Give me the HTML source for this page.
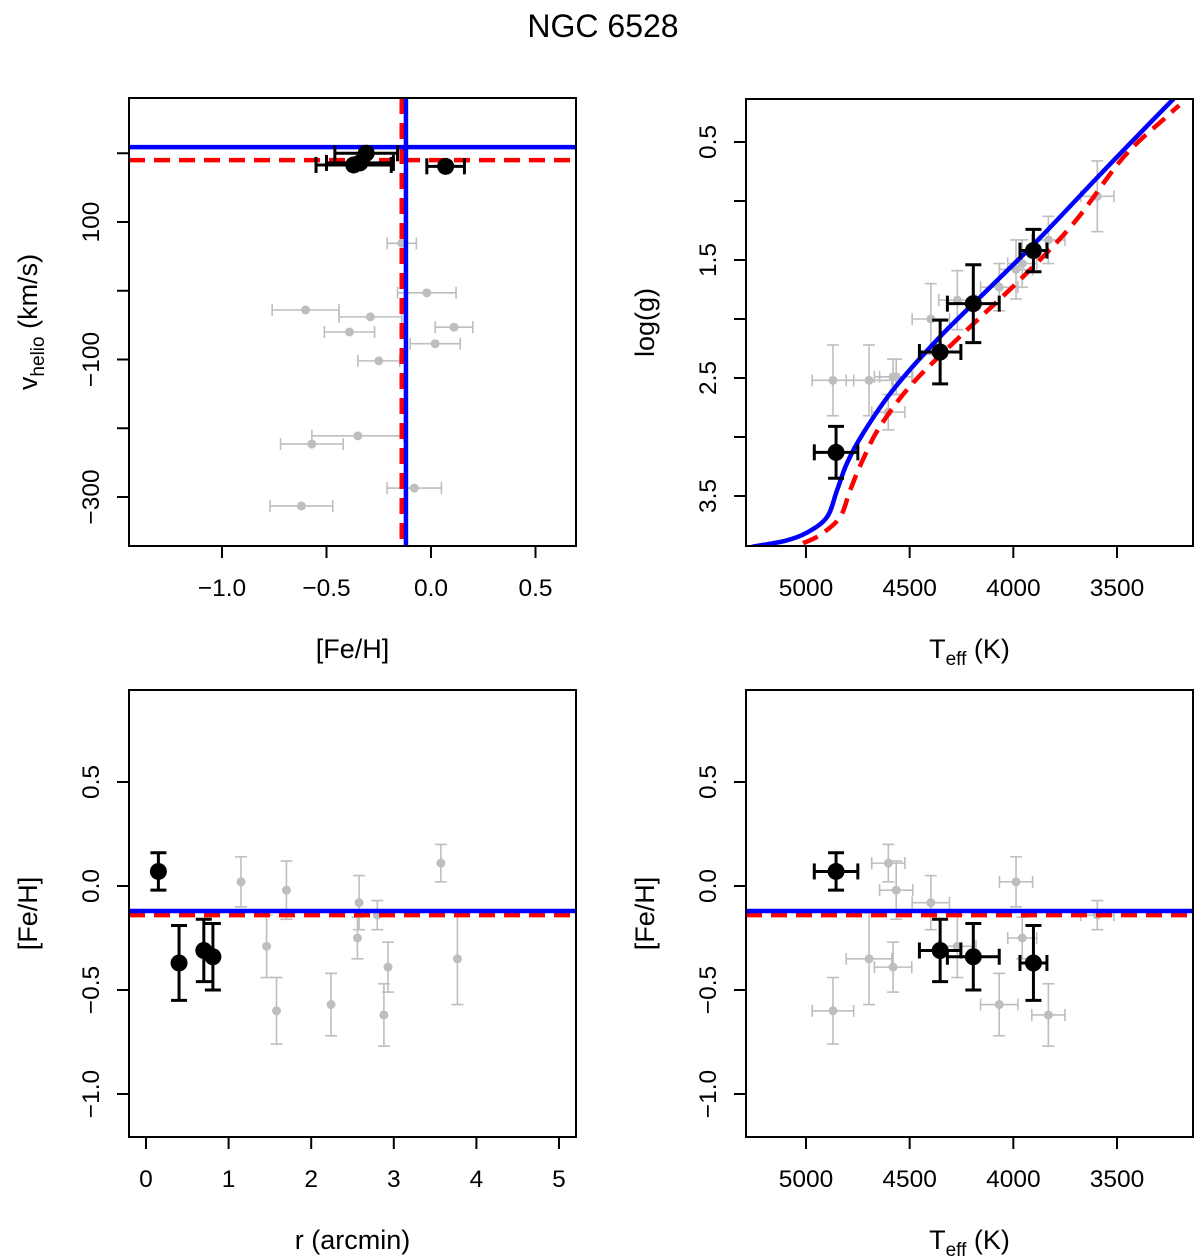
<!DOCTYPE html>
<html><head><meta charset="utf-8"><style>
body{margin:0;background:#fff;}
svg{display:block;font-family:"Liberation Sans",Helvetica,sans-serif;}
</style></head><body>
<svg id="c" width="1200" height="1257" viewBox="0 0 1200 1257">
<text x="603" y="37" font-size="32" text-anchor="middle">NGC 6528</text>
</svg>
<script>
// member stars (black)
const memFe=[0.07,-0.37,-0.31,-0.34];
const memFeErr=[0.09,0.18,0.15,0.16];
const memV=[181,183,200,186];
const memR=[0.15,0.40,0.70,0.81];
const memTeff=[4855,3903,4353,4193];
const memTeffErr=[105,65,100,125];
const memLogg=[3.13,1.42,2.28,1.87];
const memLoggErr=[0.22,0.18,0.27,0.33];
// field stars (grey)
const fFe=[0.11,0.02,-0.02,-0.08,-0.14,-0.25,-0.29,-0.35,-0.39,-0.57,-0.60,-0.62];
const fFeErr=[0.09,0.12,0.14,0.13,0.07,0.10,0.15,0.22,0.12,0.15,0.16,0.15];
const fV=[-53,-77,-3,-287,69,-102,-38,-211,-60,-223,-28,-313];
const fR=[3.57,1.15,1.70,2.58,2.80,2.56,1.46,3.77,2.93,2.24,1.58,2.88];
const fTeff=[4603,3987,4565,4398,3595,3957,4270,4696,4580,4068,4870,3831];
const fTeffErr=[80,80,80,90,80,70,90,110,90,90,100,80];
const fLogg=[2.79,1.58,2.49,2.00,0.96,1.53,1.84,2.52,2.49,1.73,2.52,1.33];
const fLoggErr=[0.15,0.25,0.15,0.3,0.3,0.2,0.25,0.3,0.15,0.2,0.3,0.2];
// isochrones
const isoBlueT=[5300,5256,5100,4995,4899,4850,4802,4725,4580,4353,4111,3870,3546,3242,3150];
const isoBlueG=[3.96,3.93,3.88,3.81,3.68,3.45,3.22,2.97,2.60,2.15,1.73,1.31,0.71,0.16,0.0];
const isoRedT=[5014,4932,4836,4787,4725,4643,4483,4222,3952,3710,3469,3251,3200];
const isoRedG=[3.90,3.83,3.68,3.45,3.19,2.91,2.54,2.09,1.64,1.19,0.63,0.27,0.19];
const clusterFeBlue=-0.12, clusterFeRed=-0.14, clusterVBlue=209, clusterVRed=190;
const ticksFe1=[-1.0,-0.5,0.0,0.5], ticksV=[200,100,0,-100,-200,-300], labV=[100,-100,-300];
const ticksT=[5000,4500,4000,3500], ticksG=[0.5,1.0,1.5,2.0,2.5,3.0,3.5], labG=[0.5,1.5,2.5,3.5];
const ticksFeY=[0.5,0.0,-0.5,-1.0], ticksR=[0,1,2,3,4,5];

const svg=document.getElementById('c'), NS='http://www.w3.org/2000/svg';
function el(tag,attrs,parent){const e=document.createElementNS(NS,tag);for(const k in attrs)e.setAttribute(k,attrs[k]);(parent||svg).appendChild(e);return e;}
function lin(d0,d1,p0,p1){return v=>p0+(v-d0)*(p1-p0)/(d1-d0);}
function fmt(v){return (Math.abs(v)<1e-9?"0.0":v.toFixed(1)).replace('-','\u2212');}

function panel(name,box,sx,sy){
  const g=el('g',{});
  
  
  const id='clip-'+name;
  const cp=el('clipPath',{id:id},g);el('rect',{x:box[0],y:box[1],width:box[2]-box[0],height:box[3]-box[1]},cp);
  const inner=el('g',{'clip-path':'url(#'+id+')'},g);
  return {g,inner,box,sx,sy};
}
function frame(P){const b=P.box;const r=el('rect',{x:b[0],y:b[1],width:b[2]-b[0],height:b[3]-b[1],fill:'none',stroke:'#000','stroke-width':2},P.g);
  }
function xticks(P,ticks,labs,lf,title,sub){
  const b=P.box;
  ticks.forEach(t=>{const x=P.sx(t);el('line',{x1:x,x2:x,y1:b[3],y2:b[3]+12,stroke:'#000','stroke-width':2},P.g);
    if(labs.includes(t)){const tx=el('text',{x:x,y:b[3]+50,'font-size':24.5,'text-anchor':'middle'},P.g);tx.textContent=lf(t);
      }});
  const tt=el('text',{x:(b[0]+b[2])/2,y:b[3]+112,'font-size':27,'text-anchor':'middle'},P.g);
  
  if(sub){tt.appendChild(document.createTextNode(title[0]));const ts=el('tspan',{'font-size':19,dy:7},tt);ts.textContent=sub;const t2=el('tspan',{dy:-7},tt);t2.textContent=title[1];}
  else tt.textContent=title;
}
function yticks(P,ticks,labs,lf,title,sub){
  const b=P.box;
  ticks.forEach(t=>{const y=P.sy(t);el('line',{x1:b[0]-12,x2:b[0],y1:y,y2:y,stroke:'#000','stroke-width':2},P.g);
    if(labs.includes(t)){const tx=el('text',{x:b[0]-30,y:y,'font-size':24.5,'text-anchor':'middle',transform:`rotate(-90 ${b[0]-30} ${y})`},P.g);tx.textContent=lf(t);
      }});
  const cx=b[0]-92, cy=(b[1]+b[3])/2;
  const tt=el('text',{x:cx,y:cy,'font-size':27,'text-anchor':'middle',transform:`rotate(-90 ${cx} ${cy})`},P.g);
  
  if(sub){tt.appendChild(document.createTextNode(title[0]));const ts=el('tspan',{'font-size':19,dy:7},tt);ts.textContent=sub;const t2=el('tspan',{dy:-7},tt);t2.textContent=title[1];}
  else tt.textContent=title;
}
function hline(P,v,col,dash){const b=P.box;const y=P.sy(v);const l=el('line',{x1:b[0],x2:b[2],y1:y,y2:y,stroke:col,'stroke-width':4.5},P.inner);if(dash)l.setAttribute('stroke-dasharray','16 9');
  }
function vline(P,v,col,dash){const b=P.box;const x=P.sx(v);const l=el('line',{x1:x,x2:x,y1:b[1],y2:b[3],stroke:col,'stroke-width':4.5},P.inner);if(dash)l.setAttribute('stroke-dasharray','16 9');
  }
function point(P,x,y,ex,ey,black){
  const g=el('g',{},P.inner);
  
  
  const col=black?'#000':'#bebebe', w=black?3:1.6, cap=black?8:6;
  const px=P.sx(x),py=P.sy(y);
  if(ex){const a=P.sx(x-ex),c=P.sx(x+ex);el('line',{x1:a,x2:c,y1:py,y2:py,stroke:col,'stroke-width':w},g);
    el('line',{x1:a,x2:a,y1:py-cap,y2:py+cap,stroke:col,'stroke-width':w},g);el('line',{x1:c,x2:c,y1:py-cap,y2:py+cap,stroke:col,'stroke-width':w},g);}
  if(ey){const a=P.sy(y-ey),c=P.sy(y+ey);el('line',{x1:px,x2:px,y1:a,y2:c,stroke:col,'stroke-width':w},g);
    el('line',{x1:px-cap,x2:px+cap,y1:a,y2:a,stroke:col,'stroke-width':w},g);el('line',{x1:px-cap,x2:px+cap,y1:c,y2:c,stroke:col,'stroke-width':w},g);}
  el('circle',{cx:px,cy:py,r:black?8.5:4.5,fill:col},g);
}
function curve(P,xs,ys,col,dash){
  const pts=xs.map((t,i)=>[P.sx(t),P.sy(ys[i])]);
  let d='M'+pts[0][0].toFixed(1)+' '+pts[0][1].toFixed(1);
  for(let i=0;i<pts.length-1;i++){
    const p0=pts[i-1]||pts[i],p1=pts[i],p2=pts[i+1],p3=pts[i+2]||p2;
    const c1=[p1[0]+(p2[0]-p0[0])/6,p1[1]+(p2[1]-p0[1])/6],c2=[p2[0]-(p3[0]-p1[0])/6,p2[1]-(p3[1]-p1[1])/6];
    d+=` C${c1[0].toFixed(1)} ${c1[1].toFixed(1)} ${c2[0].toFixed(1)} ${c2[1].toFixed(1)} ${p2[0].toFixed(1)} ${p2[1].toFixed(1)}`;
  }
  const p=el('path',{d:d,fill:'none',stroke:col,'stroke-width':4.5,'stroke-linejoin':'round'},P.inner);if(dash)p.setAttribute('stroke-dasharray','16 9');
  }

// Panel 1: v vs Fe
const P1=panel('panel-vhelio-feh',[129,98,576,546],lin(0,1,431,640),lin(100,-100,222,359.5));
fFe.forEach((f,i)=>point(P1,f,fV[i],fFeErr[i],0,false));
hline(P1,clusterVRed,'#ff0000',true);vline(P1,clusterFeRed,'#ff0000',true);
hline(P1,clusterVBlue,'#0000ff',false);vline(P1,clusterFeBlue,'#0000ff',false);
memFe.forEach((f,i)=>point(P1,f,memV[i],memFeErr[i],0,true));
frame(P1);xticks(P1,ticksFe1,ticksFe1,fmt,'[Fe/H]');
yticks(P1,ticksV,labV,v=>String(v).replace('-','\u2212'),['v','  (km/s)'],'helio');

// Panel 2: logg vs Teff
const P2=panel('panel-logg-teff',[746,99,1193,546],lin(5000,3500,806,1117),lin(0.5,3.5,142,496));
fTeff.forEach((t,i)=>point(P2,t,fLogg[i],fTeffErr[i],fLoggErr[i],false));
curve(P2,isoRedT,isoRedG,'#ff0000',true);curve(P2,isoBlueT,isoBlueG,'#0000ff',false);
memTeff.forEach((t,i)=>point(P2,t,memLogg[i],memTeffErr[i],memLoggErr[i],true));
frame(P2);xticks(P2,ticksT,ticksT,String,['T',' (K)'],'eff');
yticks(P2,ticksG,labG,v=>v.toFixed(1),'log(g)');

// Panel 3: Fe vs r
const P3=panel('panel-feh-radius',[129,690,576,1137],lin(0,5,146,559),lin(0,-0.5,886,990));
fR.forEach((r,i)=>point(P3,r,fFe[i],0,fFeErr[i],false));
hline(P3,clusterFeRed,'#ff0000',true);hline(P3,clusterFeBlue,'#0000ff',false);
memR.forEach((r,i)=>point(P3,r,memFe[i],0,memFeErr[i],true));
frame(P3);xticks(P3,ticksR,ticksR,String,'r (arcmin)');
yticks(P3,ticksFeY,ticksFeY,fmt,'[Fe/H]');

// Panel 4: Fe vs Teff
const P4=panel('panel-feh-teff',[746,690,1193,1137],lin(5000,3500,806,1117),lin(0,-0.5,886,990));
fTeff.forEach((t,i)=>point(P4,t,fFe[i],fTeffErr[i],fFeErr[i],false));
hline(P4,clusterFeRed,'#ff0000',true);hline(P4,clusterFeBlue,'#0000ff',false);
memTeff.forEach((t,i)=>point(P4,t,memFe[i],memTeffErr[i],memFeErr[i],true));
frame(P4);xticks(P4,ticksT,ticksT,String,['T',' (K)'],'eff');
yticks(P4,ticksFeY,ticksFeY,fmt,'[Fe/H]');
</script>
</body></html>
